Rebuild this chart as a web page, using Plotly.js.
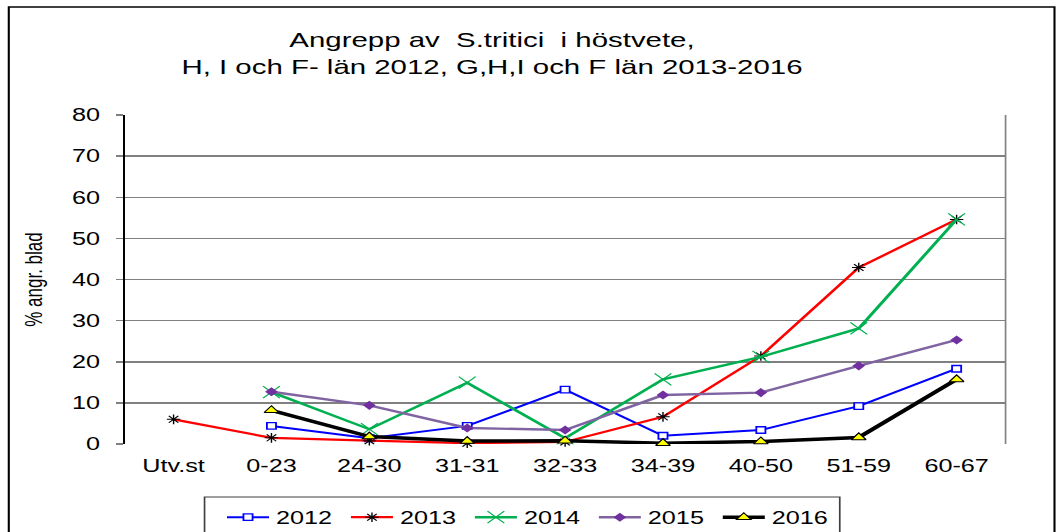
<!DOCTYPE html>
<html>
<head>
<meta charset="utf-8">
<script src="https://cdn.plot.ly/plotly-3.0.1.min.js"></script>
<style>
  html, body { margin: 0; padding: 0; background: #fff; overflow: hidden; }
  /* The reference picture is a horizontally stretched chart; reproduce that stretch */
  #chart { width: 759px; height: 532px; transform: scaleX(1.4005); transform-origin: 0 0; }
</style>
</head>
<body>
<div id="chart"></div>
<script>
const categories = ["Utv.st", "0-23", "24-30", "31-31", "32-33", "34-39", "40-50", "51-59", "60-67"];
const seriesNames = ["2012", "2013", "2014", "2015", "2016"];
const y2012 = [null, 4.4, 1.4, 4.4, 13.2, 2.0, 3.4, 9.2, 18.3];
const y2013 = [6.0, 1.5, 0.8, 0.2, 0.5, 6.6, 21.4, 42.9, 54.6];
const y2014 = [null, 12.6, 3.6, 14.9, 1.4, 15.7, 21.2, 28.1, 54.6];
const y2015 = [null, 12.7, 9.4, 3.9, 3.4, 11.9, 12.5, 19.0, 25.3];
const y2016 = [null, 8.2, 1.8, 0.7, 0.8, 0.2, 0.6, 1.6, 15.7];
const yTickVals = [0, 10, 20, 30, 40, 50, 60, 70, 80];

const S = 1.4005;             // horizontal stretch of the picture
const W = 759, H = 532;       // drawing size before the stretch
const X = v => v / S;         // picture x -> drawing x
const M = { l: X(124), r: W - X(1006), t: 115, b: 88 };
const pw = W - M.l - M.r, ph = H - M.t - M.b;
const px = v => (X(v) - M.l) / pw;
const py = v => (H - M.b - v) / ph;

const FONT = "Liberation Sans, Arial, sans-serif";

const traces = [
  { name: seriesNames[0], y: y2012,
    line: { color: "#0000FF", width: 2 },
    marker: { symbol: "square", size: 6.5, color: "#FFFFFF", line: { color: "#0000FF", width: 1.3 } } },
  { name: seriesNames[1], y: y2013,
    line: { color: "#FF0000", width: 2.2 },
    marker: { symbol: "asterisk-open", size: 8, color: "#000000", line: { color: "#000000", width: 1 } } },
  { name: seriesNames[2], y: y2014,
    line: { color: "#00B050", width: 2.4 },
    marker: { symbol: "x-thin-open", size: 12, color: "#00B050", line: { color: "#00B050", width: 1 } } },
  { name: seriesNames[3], y: y2015,
    line: { color: "#8064A2", width: 2.4 },
    marker: { symbol: "diamond", size: 7, color: "#7030A0", line: { color: "#7030A0", width: 0 } } },
  { name: seriesNames[4], y: y2016,
    line: { color: "#000000", width: 3.5 },
    marker: { symbol: "triangle-up", size: 9, color: "#FFFF00", line: { color: "#000000", width: 1 } } }
].map(t => Object.assign({ type: "scatter", mode: "lines+markers", x: categories, connectgaps: false, cliponaxis: false }, t));

const layout = {
  width: W, height: H,
  margin: M,
  paper_bgcolor: "#FFFFFF",
  plot_bgcolor: "#FFFFFF",
  showlegend: true,
  font: { family: FONT, color: "#000000" },
  title: {
    text: "Angrepp av\u00a0\u00a0S.tritici\u00a0\u00a0i höstvete,<br>H, I och F- län 2012, G,H,I och F län 2013-2016",
    font: { family: FONT, size: 21, color: "#000000" },
    xref: "container", yref: "container",
    x: X(492) / W, xanchor: "center",
    y: 1 - 47 / H, yanchor: "top"
  },
  xaxis: {
    type: "category",
    categoryorder: "array", categoryarray: categories,
    range: [-0.5, categories.length - 0.5],
    showgrid: false, zeroline: false, showline: false,
    ticks: "", tickfont: { family: FONT, size: 18, color: "#000000" },
    ticklabelstandoff: 9
  },
  yaxis: {
    range: [0, 80], tickvals: yTickVals, ticktext: yTickVals.map(String),
    showgrid: true, gridcolor: "#808080", gridwidth: 1.5,
    zeroline: false,
    showline: true, linecolor: "#000000", linewidth: 1,
    ticks: "outside", ticklen: 5, tickcolor: "#808080", tickwidth: 1.5,
    ticklabelstandoff: 8,
    tickfont: { family: FONT, size: 18, color: "#000000" },
    title: { text: "% angr. blad", font: { family: FONT, size: 17, color: "#000000" }, standoff: 16 }
  },
  legend: {
    orientation: "h",
    xref: "container", yref: "container",
    x: X(220) / W, xanchor: "left",
    y: 1 - 499 / H, yanchor: "top",
    borderwidth: 0,
    bgcolor: "rgba(0,0,0,0)",
    font: { family: FONT, size: 18, color: "#000000" },
    itemwidth: 30,
    entrywidth: 43.5,
    traceorder: "normal"
  },
  shapes: [
    { type: "line", xref: "paper", yref: "paper", x0: 1, x1: 1, y0: 0, y1: 1,
      line: { color: "#808080", width: 1.2 }, layer: "below" },
    { type: "rect", xref: "paper", yref: "paper",
      x0: px(8), x1: px(1055), y0: py(545), y1: py(7),
      line: { color: "#000000", width: 1.5 }, fillcolor: "rgba(0,0,0,0)", layer: "below" },
    { type: "rect", xref: "paper", yref: "paper",
      x0: px(204), x1: px(840), y0: py(545), y1: py(497),
      line: { color: "#404040", width: 1.2 }, fillcolor: "rgba(0,0,0,0)", layer: "below" }
  ]
};

Plotly.newPlot("chart", traces, layout, { displayModeBar: false, staticPlot: true });
</script>
</body>
</html>
